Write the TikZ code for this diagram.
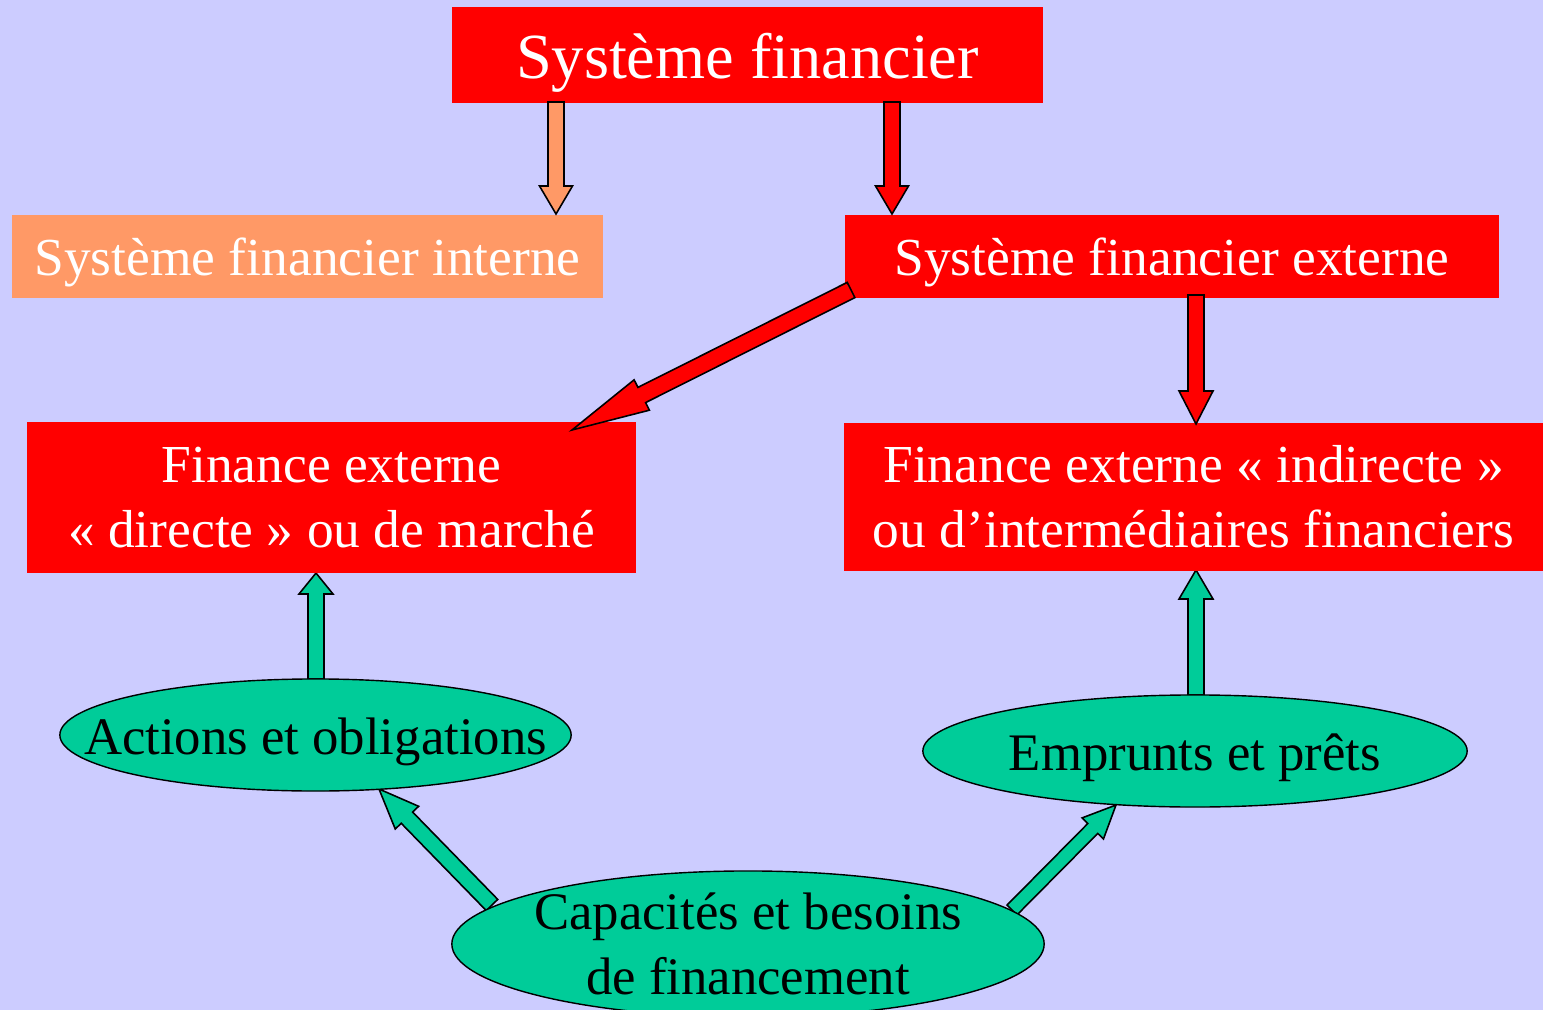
\documentclass[tikz,border=0pt]{standalone}
\usepackage{fontspec}
\setmainfont{Liberation Serif}
\usetikzlibrary{calc,shapes.geometric}
\definecolor{bgblue}{HTML}{CCCCFF}
\definecolor{rouge}{HTML}{FF0000}
\definecolor{saumon}{HTML}{FF9966}
\definecolor{vert}{HTML}{00CC99}
\pgfdeclarelayer{bglayer}
\pgfdeclarelayer{midlayer}
\pgfsetlayers{bglayer,midlayer,main}
% block arrow: #1 start, #2 tip, #3 fill, #4 shaft half width, #5 head half width, #6 head length
\newcommand{\blockarrow}[6]{%
  \coordinate (ba-h) at ($(#2)!#6!(#1)$);
  \draw[barrowstyle, fill=#3]
    ($(#1)!#4!90:(#2)$) -- ($(ba-h)!#4!-90:(#1)$) -- ($(ba-h)!#5!-90:(#1)$)
    -- (#2) -- ($(ba-h)!#5!90:(#1)$) -- ($(ba-h)!#4!90:(#1)$)
    -- ($(#1)!#4!-90:(#2)$) -- cycle;
}
\begin{document}
\begin{tikzpicture}[x=0.01cm,y=-0.01cm,
  box/.style={inner sep=0pt, align=center, text=white, font=\fontsize{15.2}{18.5}\selectfont},
  onebox/.style={box, text height=14pt, text depth=3pt},
  ell/.style={ellipse, draw=black, line width=0.4pt, fill=vert, inner sep=0pt},
  lbl/.style={align=center, text=black, font=\fontsize{15}{18.5}\selectfont},
  barrowstyle/.style={draw=black, line width=0.45pt, line join=miter}]
\useasboundingbox (0,0) rectangle (1543,1010);
\begin{pgfonlayer}{bglayer}
\fill[bgblue] (0,0) rectangle (1543,1010);
\end{pgfonlayer}

% boxes
\node[box, fill=rouge, minimum width=5.91cm, minimum height=0.95cm,
      text height=18pt, text depth=4.4pt,
      font=\fontsize{18.3}{22}\selectfont] (title) at (747.5,55) {Système financier};
\node[onebox, fill=saumon, minimum width=5.91cm, minimum height=0.83cm] (interne) at (307.5,256.5) {Système financier interne};
\node[onebox, fill=rouge, minimum width=6.54cm, minimum height=0.83cm] (externe) at (1172,256.5) {Système financier externe};
\node[box, fill=rouge, minimum width=6.09cm, minimum height=1.51cm] (direct) at (331.5,497.5) {Finance externe\\« directe » ou de marché};
\node[box, fill=rouge, minimum width=6.99cm, minimum height=1.48cm] (indirect) at (1193.5,497) {Finance externe « indirecte »\\ou d’intermédiaires financiers};

% ellipses
\node[ell, minimum width=5.11cm, minimum height=1.12cm,
      label={[lbl, yshift=-0.07cm]center:Actions et obligations}] (actions) at (315.5,735) {};
\node[ell, minimum width=5.44cm, minimum height=1.12cm,
      label={[lbl, yshift=-0.07cm]center:Emprunts et prêts}] (emprunts) at (1195,751) {};
\node[ell, minimum width=5.92cm, minimum height=1.46cm,
      label={[lbl]center:{Capacités et besoins\\de financement}}] (capa) at (748,944) {};

% arrow end points
\coordinate (a1s) at (556,102);  \coordinate (a1e) at (556,214);
\coordinate (a2s) at (892,102);  \coordinate (a2e) at (892,214);
\coordinate (a3s) at (851,290);  \coordinate (a3e) at (572,430);
\coordinate (a4s) at (1196,295); \coordinate (a4e) at (1196,424);
\coordinate (g1s) at (316,679);  \coordinate (g1e) at (316,573);
\coordinate (g2s) at (1196,695); \coordinate (g2e) at (1196,570);
\coordinate (g3s) at (492,905);  \coordinate (g3e) at (379,789);
\coordinate (g4s) at (1012,910); \coordinate (g4e) at (1116,805);

% red / orange arrows (over boxes)
\blockarrow{a1s}{a1e}{saumon}{0.08cm}{0.165cm}{0.28cm}
\blockarrow{a2s}{a2e}{rouge}{0.08cm}{0.165cm}{0.28cm}
\blockarrow{a3s}{a3e}{rouge}{0.085cm}{0.17cm}{0.78cm}
\blockarrow{a4s}{a4e}{rouge}{0.08cm}{0.17cm}{0.33cm}

% green arrows (behind ellipses)
\begin{pgfonlayer}{midlayer}
\blockarrow{g1s}{g1e}{vert}{0.08cm}{0.17cm}{0.21cm}
\blockarrow{g2s}{g2e}{vert}{0.08cm}{0.17cm}{0.29cm}
\blockarrow{g3s}{g3e}{vert}{0.08cm}{0.163cm}{0.40cm}
\blockarrow{g4s}{g4e}{vert}{0.07cm}{0.15cm}{0.33cm}
\end{pgfonlayer}
\end{tikzpicture}
\end{document}
